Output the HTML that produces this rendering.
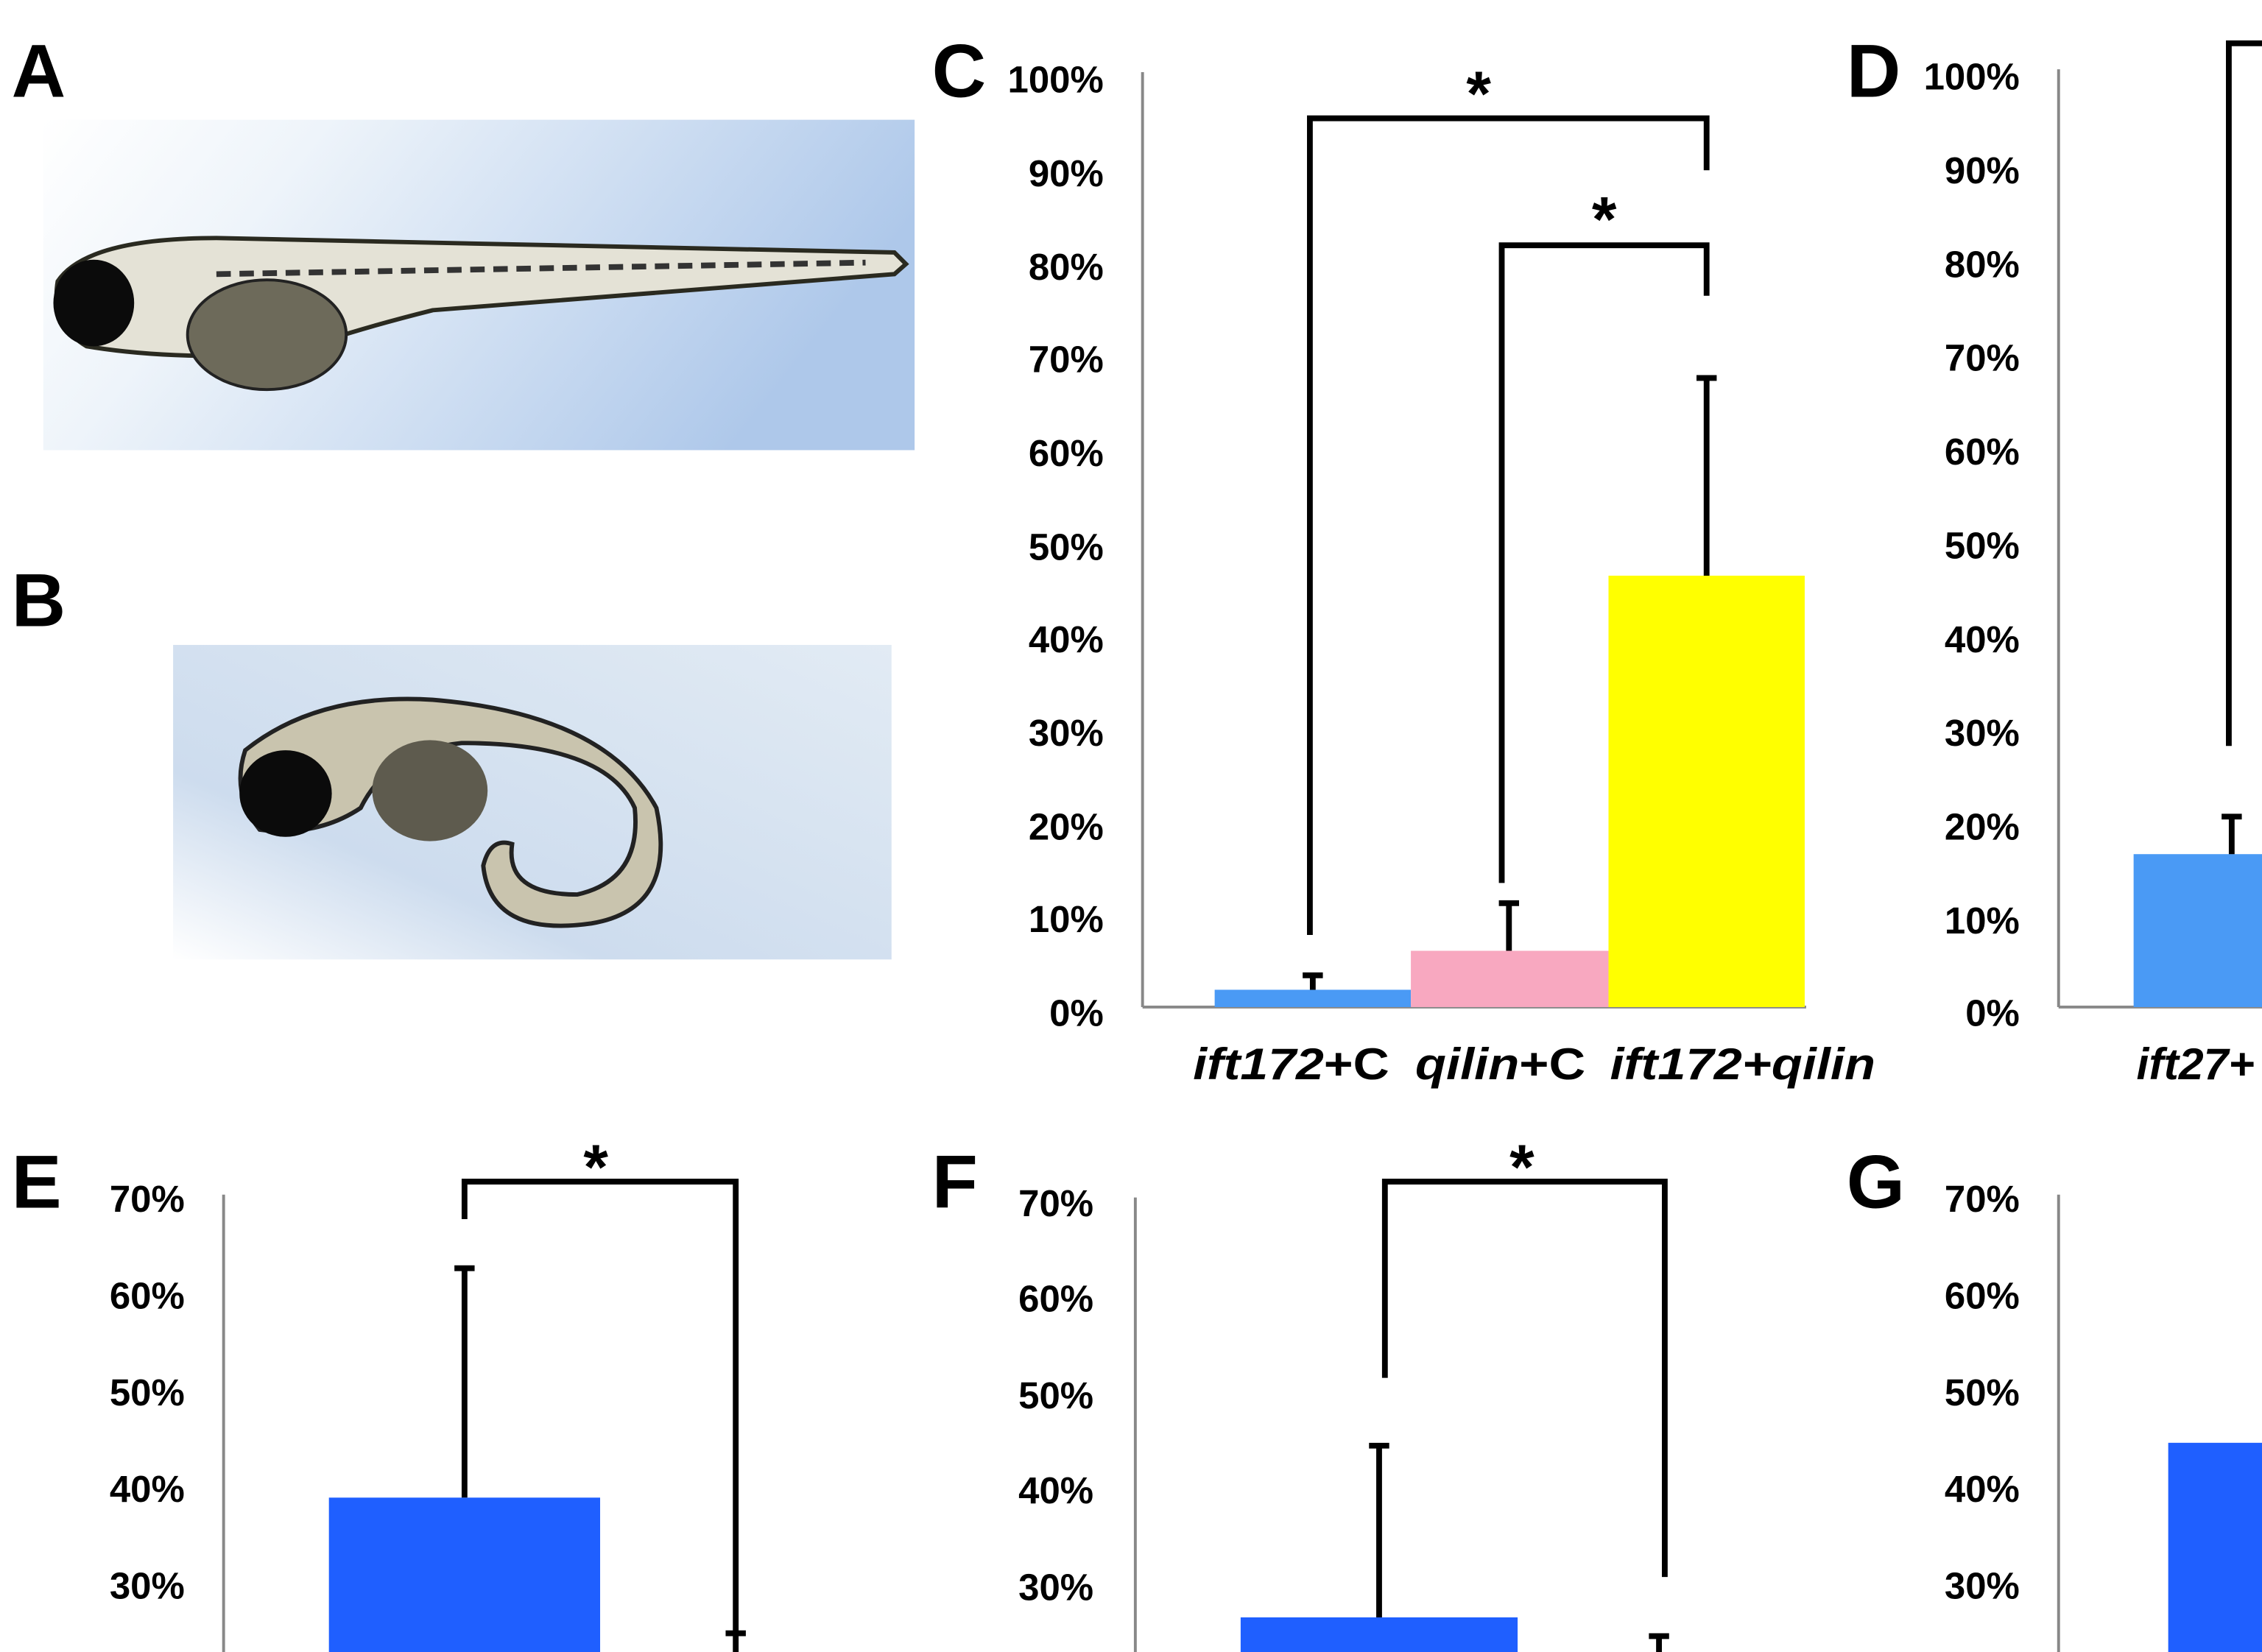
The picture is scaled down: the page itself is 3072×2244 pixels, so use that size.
<!DOCTYPE html>
<html><head><meta charset="utf-8"><style>
html,body{margin:0;padding:0;background:#fff;}
svg{display:block;}
text{font-family:"Liberation Sans",sans-serif;font-weight:bold;}
</style></head><body>
<svg width="3072" height="2244" viewBox="0 0 1568 1145" preserveAspectRatio="none" xmlns="http://www.w3.org/2000/svg">
<defs>
<linearGradient id="ga" x1="0" y1="0" x2="1" y2="0.3">
<stop offset="0" stop-color="#ffffff"/><stop offset="0.3" stop-color="#eef4fa"/><stop offset="1" stop-color="#aec8ea"/>
</linearGradient>
<linearGradient id="gb" x1="0" y1="1" x2="1" y2="0">
<stop offset="0" stop-color="#ffffff"/><stop offset="0.3" stop-color="#cddcee"/><stop offset="1" stop-color="#e2ebf4"/>
</linearGradient>
</defs>
<rect width="1568" height="1145" fill="#fff"/>
<g font-size="52">
<text x="8" y="67">A</text><text x="8" y="434">B</text><text x="646" y="67">C</text><text x="1280" y="67">D</text>
<text x="8" y="837">E</text><text x="646" y="837">F</text><text x="1280" y="837">G</text>
</g>
<rect x="30" y="83" width="604" height="229" fill="url(#ga)"/>
<path d="M40 195 Q60 165 150 165 L620 175 L628 183 L620 190 L300 215 Q240 230 200 245 Q120 250 60 240 Q35 225 40 195Z" fill="#e4e2d6" stroke="#2a2a20" stroke-width="3"/>
<ellipse cx="65" cy="210" rx="28" ry="30" fill="#0b0b0b"/>
<ellipse cx="185" cy="232" rx="55" ry="38" fill="#6d6a5a" stroke="#222" stroke-width="2"/>
<path d="M150 190 L600 182" stroke="#333" stroke-width="4" stroke-dasharray="10 6"/>
<rect x="120" y="447" width="498" height="218" fill="url(#gb)"/>
<path d="M170 520 Q220 480 300 485 Q420 495 455 560 Q470 630 410 640 Q340 650 335 600 Q340 580 355 585 Q350 620 400 620 Q445 610 440 560 Q420 515 320 515 Q270 520 250 560 Q220 580 180 575 Q160 550 170 520Z" fill="#c9c4ae" stroke="#222" stroke-width="3"/>
<ellipse cx="198" cy="550" rx="32" ry="30" fill="#0b0b0b"/>
<ellipse cx="298" cy="548" rx="40" ry="35" fill="#5e5b4e"/>
<!-- Chart C -->
<g font-size="26" text-anchor="end">
<text x="765" y="64">100%</text><text x="765" y="129">90%</text><text x="765" y="194">80%</text><text x="765" y="258">70%</text><text x="765" y="323">60%</text><text x="765" y="388">50%</text><text x="765" y="452">40%</text><text x="765" y="517">30%</text><text x="765" y="582">20%</text><text x="765" y="646">10%</text><text x="765" y="711">0%</text>
</g>
<line x1="792" y1="50" x2="792" y2="698" stroke="#888" stroke-width="2"/>
<line x1="792" y1="698" x2="1252" y2="698" stroke="#888" stroke-width="2"/>
<rect x="842" y="686" width="136" height="12" fill="#4a9af5"/>
<rect x="978" y="659" width="137" height="39" fill="#f8a8c0"/>
<rect x="1115" y="399" width="136" height="299" fill="#ffff00"/>
<g stroke="#000" stroke-width="4" fill="none">
<path d="M910 686V676M903 676H917"/>
<path d="M1046 659V626M1039 626H1053"/>
<path d="M1183 399V262M1176 262H1190"/>
<path d="M908 648V82H1183V118"/>
<path d="M1041 612V170H1183V205"/>
</g>
<g font-size="44" text-anchor="middle"><text x="1025" y="80">*</text><text x="1112" y="167">*</text></g>
<g font-size="31">
<text x="827" y="748" textLength="136" lengthAdjust="spacingAndGlyphs"><tspan font-style="italic">ift172</tspan>+C</text>
<text x="981" y="748" textLength="118" lengthAdjust="spacingAndGlyphs"><tspan font-style="italic">qilin</tspan>+C</text>
<text x="1116" y="748" font-style="italic" textLength="184" lengthAdjust="spacingAndGlyphs">ift172+qilin</text>
</g>
<!-- Chart D -->
<g font-size="26" text-anchor="end">
<text x="1400" y="62">100%</text><text x="1400" y="127">90%</text><text x="1400" y="192">80%</text><text x="1400" y="257">70%</text><text x="1400" y="322">60%</text><text x="1400" y="387">50%</text><text x="1400" y="452">40%</text><text x="1400" y="517">30%</text><text x="1400" y="582">20%</text><text x="1400" y="647">10%</text><text x="1400" y="711">0%</text>
</g>
<line x1="1427" y1="48" x2="1427" y2="698" stroke="#888" stroke-width="2"/>
<line x1="1427" y1="698" x2="1568" y2="698" stroke="#888" stroke-width="2"/>
<rect x="1479" y="592" width="89" height="106" fill="#4a9af5"/>
<g stroke="#000" stroke-width="4" fill="none">
<path d="M1547 592V566M1540 566H1554"/>
<path d="M1545 517V30H1570"/>
</g>
<text x="1481" y="748" font-size="31" font-style="italic">ift27+</text>
<!-- Chart E -->
<g font-size="26" text-anchor="end">
<text x="128" y="840">70%</text><text x="128" y="907">60%</text><text x="128" y="974">50%</text><text x="128" y="1041">40%</text><text x="128" y="1108">30%</text>
</g>
<line x1="155" y1="828" x2="155" y2="1145" stroke="#888" stroke-width="2"/>
<rect x="228" y="1038" width="188" height="107" fill="#1f5fff"/>
<g stroke="#000" stroke-width="4" fill="none">
<path d="M322 1038V879M315 879H329"/>
<path d="M322 845V819H510V1145"/>
<path d="M503 1132H517"/>
</g>
<text x="413" y="824" font-size="44" text-anchor="middle">*</text>
<!-- Chart F -->
<g font-size="26" text-anchor="end">
<text x="758" y="843">70%</text><text x="758" y="909">60%</text><text x="758" y="976">50%</text><text x="758" y="1042">40%</text><text x="758" y="1109">30%</text>
</g>
<line x1="787" y1="830" x2="787" y2="1145" stroke="#888" stroke-width="2"/>
<rect x="860" y="1121" width="192" height="24" fill="#1f5fff"/>
<g stroke="#000" stroke-width="4" fill="none">
<path d="M956 1121V1002M949 1002H963"/>
<path d="M960 955V819H1154V1093"/>
<path d="M1150 1145V1134M1143 1134H1157"/>
</g>
<text x="1055" y="824" font-size="44" text-anchor="middle">*</text>
<!-- Chart G -->
<g font-size="26" text-anchor="end">
<text x="1400" y="840">70%</text><text x="1400" y="907">60%</text><text x="1400" y="974">50%</text><text x="1400" y="1041">40%</text><text x="1400" y="1108">30%</text>
</g>
<line x1="1427" y1="828" x2="1427" y2="1145" stroke="#888" stroke-width="2"/>
<rect x="1503" y="1000" width="65" height="145" fill="#1f5fff"/>
</svg>
</body></html>
